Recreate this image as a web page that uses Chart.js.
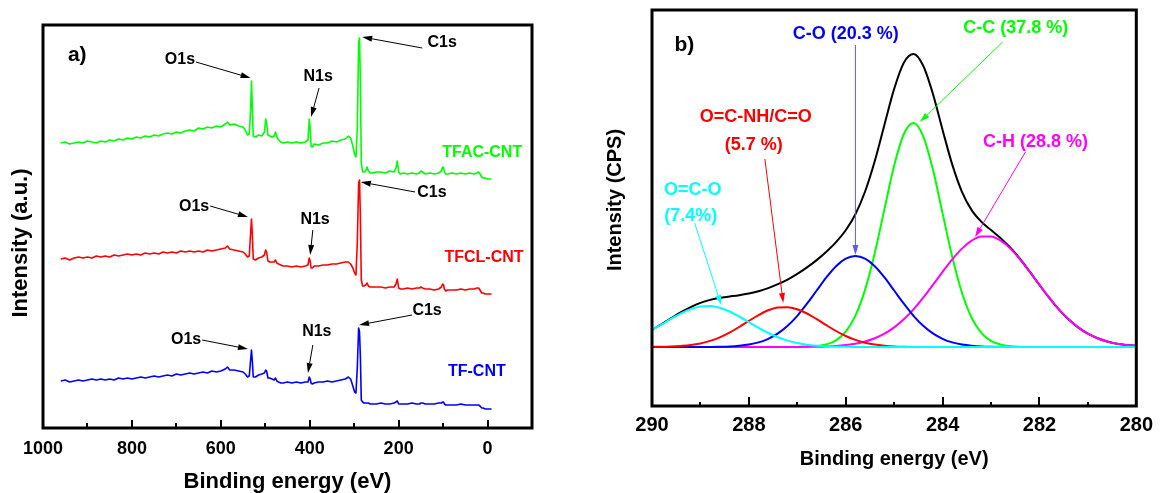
<!DOCTYPE html>
<html>
<head>
<meta charset="utf-8">
<title>XPS spectra</title>
<script src="https://cdn.jsdelivr.net/npm/chart.js@4.4.1/dist/chart.umd.min.js"></script>
<style>
  html, body { margin: 0; padding: 0; background: #fff; }
  #wrap { position: relative; width: 1160px; height: 493px; overflow: hidden; background: #fff; }
  #survey { position: absolute; left: 0; top: 0; }
  #c1s { position: absolute; left: 580px; top: 0; }
</style>
</head>
<body>
<div id="wrap">
  <canvas id="survey" width="580" height="493"></canvas>
  <canvas id="c1s" width="580" height="493"></canvas>
</div>
<script>
// ---------- (a) survey spectra ----------
const surveyEnergy = [
  960,950,940,930,920,910,900,890,880,870,860,850,840,830,820,810,800,790,780,770,
  760,750,740,730,720,710,700,690,680,670,660,650,640,630,620,610,600,
  590,585,580,570,560,550,545,540,536,533,531,529,527,522,515,508,502,499,497,494,490,485,480,477,474,470,465,460,
  450,440,430,420,410,
  404,401,399,397,394,390,
  380,370,360,350,340,330,320,
  313,308,303,299,296,293,290,288,286,284,281,278,274,271,268,264,260,
  250,240,230,220,210,
  206,203,200,196,190,
  180,170,160,153,150,146,140,130,120,110,
  104,101,99,97,94,90,
  80,70,60,50,40,30,
  24,20,17,13,10,5,0,-5,-9
];
const tfacCnt = [
  285,286,284,285,286,285,287,286,285,287,286,288,287,289,288,290,289,291,290,292,
  291,293,292,294,295,294,296,295,297,298,297,300,299,301,300,302,301,
  304,306,303,304,302,301,298,293,294,318,347,318,292,291,293,292,296,309,305,293,292,291,292,296,291,288,286,285,
  286,285,286,285,286,
  288,309,300,282,281,284,
  283,285,285,287,286,288,289,
  292,290,282,274,271,300,385,390,345,265,256,256,257,261,257,255,255,
  256,256,255,257,256,
  260,267,256,254,255,
  254,255,254,255,257,256,254,255,254,255,
  257,261,260,256,254,254,
  255,254,255,254,255,254,
  255,256,254,251,250,250,249,249,249
];
const tfclCnt = [
  169,170,168,170,171,170,171,170,172,171,172,171,173,172,173,174,173,174,173,175,
  174,175,174,176,175,176,175,177,176,177,176,177,176,178,177,178,179,
  180,182,179,178,177,176,174,171,172,195,209,192,169,168,170,171,173,178,176,167,166,166,166,168,165,164,163,162,
  162,161,162,161,162,
  163,170,167,160,160,162,
  162,163,163,164,164,165,166,
  166,164,160,155,153,185,245,248,210,148,142,142,143,145,142,141,141,
  141,141,140,141,141,
  144,149,140,139,139,
  140,139,140,140,141,140,139,139,138,139,
  141,144,143,139,137,138,
  138,138,139,138,139,139,
  140,140,138,135,135,134,134,134,134
];
const tfCnt = [
  47,48,46,47,48,47,48,49,48,49,48,49,48,50,49,50,49,50,51,50,
  51,52,51,52,53,52,54,53,54,55,54,55,56,55,57,56,57,
  59,61,58,58,57,56,54,51,52,68,78,66,51,51,53,54,55,58,57,50,50,49,48,50,47,46,45,45,
  46,45,46,45,46,
  46,51,49,45,44,45,
  46,46,47,46,47,48,49,
  51,49,42,36,35,60,100,96,70,28,26,25,25,25,25,24,24,
  24,25,24,24,25,
  26,27,24,24,24,
  24,25,24,24,25,25,24,24,24,25,
  25,26,26,24,23,23,
  23,23,24,23,23,23,
  23,23,22,20,20,19,19,19,19
];
const surveyTickLabels = ['1000', '800', '600', '400', '200', '0'];

// ---------- (b) C1s high-resolution fit ----------
const c1sEnergy = [
  290.0,289.8,289.6,289.4,289.2,289.0,288.8,288.6,288.4,288.2,288.0,287.8,287.6,287.4,287.2,287.0,
  286.8,286.6,286.4,286.2,286.0,285.8,285.6,285.4,285.2,285.0,284.8,284.6,284.4,284.2,284.0,283.8,
  283.6,283.4,283.2,283.0,282.8,282.6,282.4,282.2,282.0,281.8,281.6,281.4,281.2,281.0,280.8,280.6,
  280.4,280.2,280.0
];
const fitEnvelope = [
  17.1,22.8,28.8,34.8,39.9,44.1,47.1,49.2,50.5,51.8,53.5,55.7,58.9,62.8,67.4,73.1,
  79.6,86.9,95.3,104.9,116.8,132.8,155.5,186.0,222.3,258.1,284.3,292.9,281.2,253.1,217.0,182.4,
  155.2,136.9,125.3,116.9,108.8,99.2,88.0,75.3,62.1,49.3,37.6,27.7,19.6,13.3,8.7,5.5,
  3.3,2.0,1.1
];
const fitCC = [
  0,0,0,0,0,0,0,0,0,0,0,0,0,0,0,0.1,
  0.3,0.9,2.6,6.7,15.3,31.3,57.4,94.1,138.1,181.4,213.0,224.0,210.7,177.4,133.6,90.1,
  54.3,29.3,14.2,6.1,2.4,0.8,0.3,0.1,0,0,0,0,0,0,0,0,
  0,0,0
];
const fitCH = [
  0,0,0,0,0,0,0,0,0,0,0,0,0,0,0,0.1,
  0.2,0.3,0.6,1.1,2.0,3.3,5.5,8.7,13.3,19.6,27.7,37.6,49.3,62.1,75.2,87.7,
  98.4,106.3,110.5,110.5,106.3,98.4,87.7,75.2,62.1,49.3,37.6,27.7,19.6,13.3,8.7,5.5,
  3.3,2.0,1.1
];
const fitCO = [
  0,0,0,0,0,0,0.1,0.3,0.6,1.3,2.5,4.6,8.2,13.6,21.2,31.2,
  43.3,56.5,69.6,80.8,88.3,91.0,88.3,80.8,69.6,56.5,43.3,31.2,21.2,13.6,8.2,4.6,
  2.5,1.3,0.6,0.3,0.1,0,0,0,0,0,0,0,0,0,0,0,
  0,0,0
];
const fitOCNH = [
  0.1,0.2,0.5,1.1,2.0,3.6,6.1,9.7,14.4,20.0,26.1,31.9,36.7,39.5,39.8,37.7,
  33.5,27.9,21.8,16.0,11.0,7.1,4.3,2.4,1.3,0.6,0.3,0.1,0,0,0,0,
  0,0,0,0,0,0,0,0,0,0,0,0,0,0,0,0,
  0,0,0
];
const fitOCO = [
  17.0,22.6,28.3,33.7,37.9,40.5,40.9,39.2,35.5,30.5,24.9,19.2,14.0,9.7,6.4,4.0,
  2.3,1.3,0.7,0.3,0.2,0.1,0,0,0,0,0,0,0,0,0,0,
  0,0,0,0,0,0,0,0,0,0,0,0,0,0,0,0,
  0,0,0
];
const c1sTickLabels = ['290', '288', '286', '284', '282', '280'];

// ---------- drawing helpers ----------
const FONT = '"Liberation Sans", Arial, Helvetica, sans-serif';
const toPoints = (xs, ys) => xs.map((x, i) => ({ x: x, y: ys[i] }));

function drawArrow(ctx, x1, y1, x2, y2, color, lw, headLen, headW) {
  const a = Math.atan2(y2 - y1, x2 - x1);
  const bx = x2 - headLen * Math.cos(a), by = y2 - headLen * Math.sin(a);
  ctx.save();
  ctx.strokeStyle = color; ctx.fillStyle = color; ctx.lineWidth = lw;
  ctx.beginPath(); ctx.moveTo(x1, y1); ctx.lineTo(bx, by); ctx.stroke();
  ctx.beginPath();
  ctx.moveTo(x2, y2);
  ctx.lineTo(bx + (headW / 2) * Math.sin(a), by - (headW / 2) * Math.cos(a));
  ctx.lineTo(bx - (headW / 2) * Math.sin(a), by + (headW / 2) * Math.cos(a));
  ctx.closePath(); ctx.fill();
  ctx.restore();
}

// frame, inward ticks, peak labels with arrows and axis titles
const decorPlugin = {
  id: 'decor',
  afterDatasetsDraw(chart, args, o) {
    const { ctx, chartArea: a, scales: { x, y } } = chart;
    ctx.save();
    // inward tick marks taken from the scale's own ticks
    ctx.strokeStyle = '#000';
    ctx.lineWidth = o.tickWidth;
    x.ticks.forEach((t) => {
      const px = Math.round(x.getPixelForValue(t.value));
      if (px <= a.left + 1 || px >= a.right - 1) return;
      const major = t.label !== '';
      const len = major ? o.majorLen : o.minorLen;
      ctx.beginPath();
      ctx.moveTo(px, a.bottom);
      ctx.lineTo(px, a.bottom - len);
      ctx.stroke();
    });
    // frame
    ctx.lineWidth = o.frameWidth;
    ctx.strokeRect(a.left, a.top, a.right - a.left, a.bottom - a.top);

    // arrows
    o.notes.forEach((n) => {
      if (!n.arrow) return;
      drawArrow(ctx,
        x.getPixelForValue(n.arrow.from[0]), y.getPixelForValue(n.arrow.from[1]),
        x.getPixelForValue(n.arrow.to[0]), y.getPixelForValue(n.arrow.to[1]),
        n.arrowColor || n.color, o.arrowWidth, o.headLen, o.headW);
    });
    // labels
    ctx.textAlign = 'center';
    ctx.textBaseline = 'middle';
    o.notes.forEach((n) => {
      ctx.fillStyle = n.color;
      ctx.font = 'bold ' + (n.size || o.noteSize) + 'px ' + FONT;
      ctx.fillText(n.text, x.getPixelForValue(n.at[0]), y.getPixelForValue(n.at[1]));
    });

    // axis titles
    ctx.fillStyle = '#000';
    ctx.font = 'bold ' + o.titleSize + 'px ' + FONT;
    ctx.fillText(o.xTitle, (a.left + a.right) / 2, o.xTitleY);
    ctx.translate(o.yTitleX, o.yTitleY);
    ctx.rotate(-Math.PI / 2);
    ctx.fillText(o.yTitle, 0, 0);
    ctx.restore();
  }
};

// ---------- (a) ----------
const surveyNotes = [
  { text: 'a)', at: [923, 373], size: 21, color: '#000' },
  { text: 'O1s', at: [692, 368], color: '#000', arrow: { from: [656, 366], to: [533, 350] } },
  { text: 'N1s', at: [381, 351], color: '#000', arrow: { from: [379, 340], to: [397, 311] } },
  { text: 'C1s', at: [102, 385], color: '#000', arrow: { from: [147, 380], to: [282, 391] } },
  { text: 'O1s', at: [660, 221], color: '#000', arrow: { from: [624, 222], to: [539, 211] } },
  { text: 'N1s', at: [388, 208], color: '#000', arrow: { from: [393, 198], to: [399, 173] } },
  { text: 'C1s', at: [125, 235], color: '#000', arrow: { from: [163, 236], to: [285, 246] } },
  { text: 'O1s', at: [678, 88], color: '#000', arrow: { from: [642, 88], to: [539, 79] } },
  { text: 'N1s', at: [384, 96], color: '#000', arrow: { from: [393, 83], to: [404, 55] } },
  { text: 'C1s', at: [136, 117], color: '#000', arrow: { from: [170, 113], to: [289, 103] } },
  { text: 'TFAC-CNT', at: [12, 275], color: '#00ff00' },
  { text: 'TFCL-CNT', at: [8, 170], color: '#ff0000' },
  { text: 'TF-CNT', at: [24, 56], color: '#0000ff' }
];

new Chart(document.getElementById('survey'), {
  type: 'line',
  data: {
    datasets: [
      { label: 'TFAC-CNT', data: toPoints(surveyEnergy, tfacCnt), borderColor: '#00ff00' },
      { label: 'TFCL-CNT', data: toPoints(surveyEnergy, tfclCnt), borderColor: '#ff0000' },
      { label: 'TF-CNT', data: toPoints(surveyEnergy, tfCnt), borderColor: '#0000ff' }
    ]
  },
  options: {
    responsive: false,
    animation: false,
    events: [],
    datasets: { line: { borderWidth: 1.6, pointRadius: 0, tension: 0, borderJoinStyle: 'round' } },
    layout: { padding: { left: 43, top: 25, right: 48, bottom: 0 } },
    plugins: {
      legend: { display: false },
      tooltip: { enabled: false },
      decor: {
        notes: surveyNotes, noteSize: 16,
        tickWidth: 2, majorLen: 8, minorLen: 5, frameWidth: 3,
        arrowWidth: 1, headLen: 10, headW: 6,
        titleSize: 22, xTitle: 'Binding energy (eV)', xTitleY: 482,
        yTitle: 'Intensity (a.u.)', yTitleX: 21, yTitleY: 243
      }
    },
    scales: {
      x: {
        type: 'linear', reverse: true, min: -100, max: 1000,
        grid: { display: false, drawTicks: false },
        border: { display: false },
        ticks: {
          stepSize: 100, autoSkip: false, maxRotation: 0, padding: 10, color: '#000',
          font: { family: FONT, size: 18, weight: 'bold' },
          callback: (v) => surveyTickLabels.includes(String(v)) ? String(v) : ''
        },
        afterFit: (s) => { s.height = 65; }
      },
      y: { display: false, min: 0, max: 403 }
    }
  },
  plugins: [decorPlugin]
});

// ---------- (b) ----------
const c1sNotes = [
  { text: 'b)', at: [289.33, 302], size: 21, color: '#000' },
  { text: 'C-O (20.3 %)', at: [286.0, 313], color: '#0000ff', arrow: { from: [285.80, 302], to: [285.80, 92] }, arrowColor: '#5a5aff' },
  { text: 'O=C-NH/C=O', at: [287.86, 230], color: '#ff0000', arrow: { from: [287.67, 188], to: [287.29, 44] } },
  { text: '(5.7 %)', at: [287.90, 202], color: '#ff0000' },
  { text: 'C-C (37.8 %)', at: [282.49, 319], color: '#00ff00', arrow: { from: [282.76, 305], to: [284.47, 225] } },
  { text: 'C-H (28.8 %)', at: [282.08, 205], color: '#ff00ff', arrow: { from: [282.29, 195], to: [283.33, 110] } },
  { text: 'O=C-O', at: [289.16, 157], color: '#00ffff', arrow: { from: [289.12, 124], to: [288.57, 42] } },
  { text: '(7.4%)', at: [289.20, 131], color: '#00ffff' }
];

new Chart(document.getElementById('c1s'), {
  type: 'line',
  data: {
    datasets: [
      { label: 'Envelope', data: toPoints(c1sEnergy, fitEnvelope), borderColor: '#000000', order: 6 },
      { label: 'C-C', data: toPoints(c1sEnergy, fitCC), borderColor: '#00ff00', order: 5 },
      { label: 'C-H', data: toPoints(c1sEnergy, fitCH), borderColor: '#ff00ff', order: 4 },
      { label: 'C-O', data: toPoints(c1sEnergy, fitCO), borderColor: '#0000ff', order: 3 },
      { label: 'O=C-NH/C=O', data: toPoints(c1sEnergy, fitOCNH), borderColor: '#ff0000', order: 2 },
      { label: 'O=C-O', data: toPoints(c1sEnergy, fitOCO), borderColor: '#00ffff', order: 1 }
    ]
  },
  options: {
    responsive: false,
    animation: false,
    events: [],
    datasets: { line: { borderWidth: 2, pointRadius: 0, cubicInterpolationMode: 'monotone' } },
    layout: { padding: { left: 72, top: 10, right: 18, bottom: 0 } },
    plugins: {
      legend: { display: false },
      tooltip: { enabled: false },
      decor: {
        notes: c1sNotes, noteSize: 18,
        tickWidth: 2, majorLen: 9, minorLen: 4, frameWidth: 3,
        arrowWidth: 1, headLen: 10, headW: 6,
        titleSize: 20, xTitle: 'Binding energy (eV)', xTitleY: 459,
        yTitle: 'Intensity (CPS)', yTitleX: 35, yTitleY: 200
      }
    },
    scales: {
      x: {
        type: 'linear', reverse: true, min: 280, max: 290,
        grid: { display: false, drawTicks: false },
        border: { display: false },
        ticks: {
          stepSize: 1, autoSkip: false, maxRotation: 0, padding: 7, color: '#000',
          font: { family: FONT, size: 20, weight: 'bold' },
          callback: (v) => c1sTickLabels.includes(String(v)) ? String(v) : ''
        },
        afterFit: (s) => { s.height = 87; }
      },
      y: { display: false, min: -59, max: 337 }
    }
  },
  plugins: [decorPlugin]
});
</script>
</body>
</html>
